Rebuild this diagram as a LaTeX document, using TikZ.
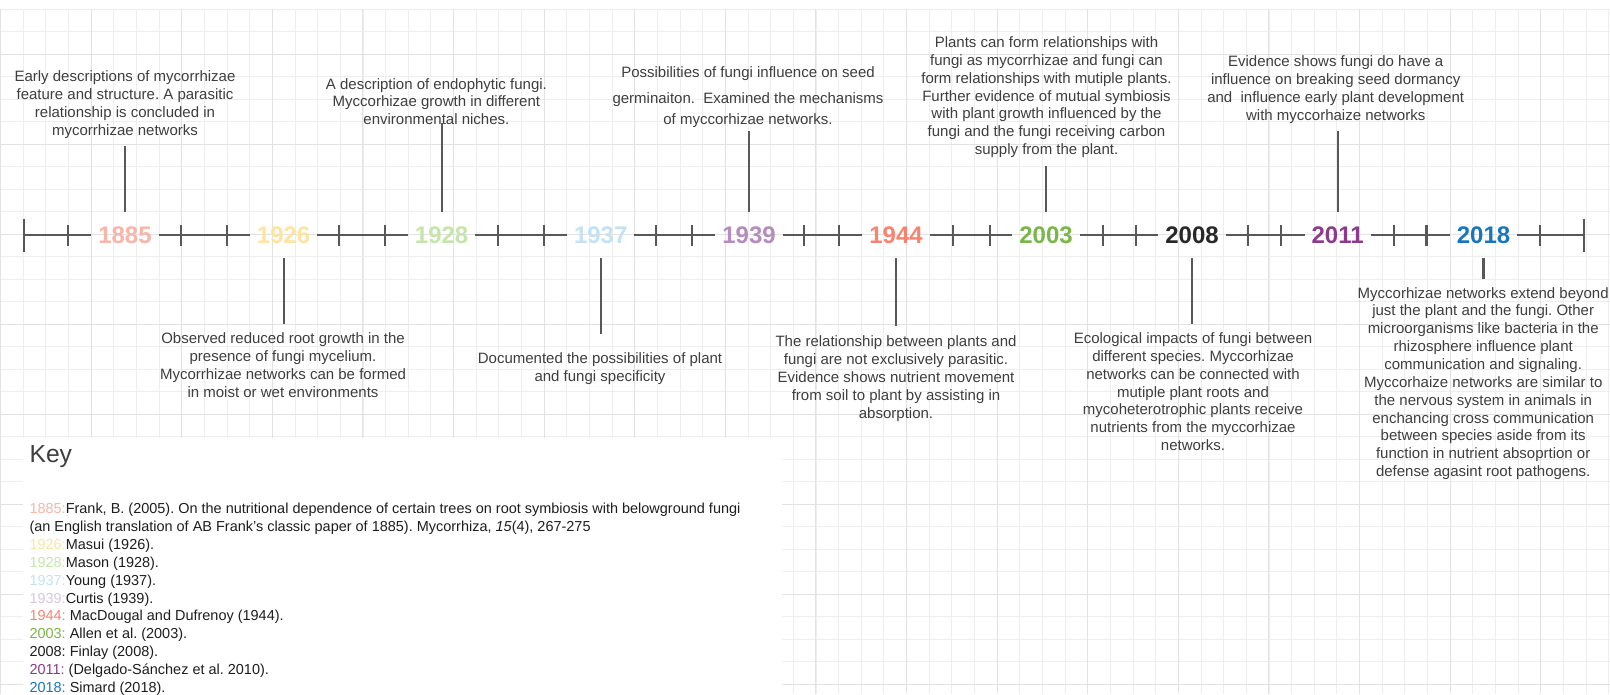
\documentclass[tikz,border=0pt]{standalone}
\usepackage{fontspec}
\setmainfont{Liberation Sans}
\usepackage{xcolor}
\usepackage{tikz}

\definecolor{c1885}{RGB}{250,180,168}
\definecolor{c1926}{RGB}{253,228,160}
\definecolor{c1928}{RGB}{197,230,170}
\definecolor{c1937}{RGB}{195,226,246}
\definecolor{c1939}{RGB}{180,140,190}
\definecolor{k1939}{RGB}{218,198,226}
\definecolor{c1944}{RGB}{249,131,113}
\definecolor{c2003}{RGB}{122,182,72}
\definecolor{c2008}{RGB}{40,40,40}
\definecolor{c2011}{RGB}{140,58,142}
\definecolor{c2018}{RGB}{24,118,190}
\definecolor{linegray}{RGB}{88,88,88}
\definecolor{notegray}{RGB}{62,62,62}
\definecolor{keytext}{RGB}{30,30,30}
\definecolor{gridminor}{RGB}{238,238,238}
\definecolor{gridmajor}{RGB}{226,226,226}

\begin{document}
\frenchspacing
\begin{tikzpicture}[x=0.75pt, y=-0.75pt,
        year/.style     = {font=\bfseries\fontsize{18}{22}\selectfont,
                           inner xsep=5pt, inner ysep=11pt},
        note/.style     = {align=center, anchor=north, inner sep=0pt,
                           text=notegray, font=\fontsize{11.25}{13.4}\selectfont},
        axisline/.style = {draw=linegray, line width=1.6pt},
        stemline/.style = {draw=linegray, line width=1.6pt},
        minorline/.style = {draw=gridminor, line width=0.6pt},
        majorline/.style = {draw=gridmajor, line width=0.7pt}]
    \useasboundingbox (0,0) rectangle (1610,694);
    \fill[white] (0,0) rectangle (1610,694);
    \foreach \gx in {0.5,23.15,...,1609} \draw[minorline] (\gx,9) -- (\gx,694);
    \foreach \gy in {9.3,31.8,...,694} \draw[minorline] (0,\gy) -- (1610,\gy);
    \foreach \gx in {0.5,91.1,...,1609} \draw[majorline] (\gx,9) -- (\gx,694);
    \foreach \gy in {54.3,144.3,...,694} \draw[majorline] (0,\gy) -- (1610,\gy);
    \fill[white] (23,437.5) rectangle (782,694);

    \node[year, text=c1885] (y1885) at (125,235)    {1885};
    \node[year, text=c1926] (y1926) at (283.6,235)  {1926};
    \node[year, text=c1928] (y1928) at (441.6,235)  {1928};
    \node[year, text=c1937] (y1937) at (600.7,235)  {1937};
    \node[year, text=c1939] (y1939) at (749,235)    {1939};
    \node[year, text=c1944] (y1944) at (896,235)    {1944};
    \node[year, text=c2003] (y2003) at (1046,235)   {2003};
    \node[year, text=c2008] (y2008) at (1192,235)   {2008};
    \node[year, text=c2011] (y2011) at (1337.6,235) {2011};
    \node[year, text=c2018] (y2018) at (1483.5,235) {2018};
    \coordinate (capL) at (24,235);
    \coordinate (capR) at (1584.4,235);

    \draw[axisline] (capL) -- (y1885) -- (y1926) -- (y1928) -- (y1937) -- (y1939)
        -- (y1944) -- (y2003) -- (y2008) -- (y2011) -- (y2018) -- (capR);
    \draw[axisline] (24,218.5) -- (24,251.5) (1584.4,218.5) -- (1584.4,251.5);
    \foreach \tx in {67.9,181.4,226.8,339.3,385,498,543.6,656,691.8,804,839,
                     953,990,1103,1135.8,1248,1281,1393.7,1426.5,1539.8}
        \draw[axisline] (\tx,224.5) -- (\tx,245.5);

    \node[note] (n1885) at (125,70.3)    {Early descriptions of mycorrhizae\\feature and structure. A parasitic\\relationship is concluded in\\mycorrhizae networks};
    \node[note] (n1926) at (283,332.3)   {Observed reduced root growth in the\\presence of fungi mycelium.\\Mycorrhizae networks can be formed\\in moist or wet environments};
    \node[note] (n1928) at (436.4,77.9)  {A description of endophytic fungi.\\Myccorhizae growth in different\\environmental niches.};
    \node[note] (n1937) at (600,352.3)   {Documented the possibilities of plant\\and fungi specificity};
    \node[note] (n1939) at (748,66.3)    {Possibilities of fungi influence on seed\\[6pt]germinaiton.\ \ Examined the mechanisms\\[2.5pt]of myccorhizae networks.};
    \node[note] (n1944) at (896,335.6)   {The relationship between plants and\\fungi are not exclusively parasitic.\\Evidence shows nutrient movement\\from soil to plant by assisting in\\absorption.};
    \node[note] (n2003) at (1046.5,36.3) {Plants can form relationships with\\fungi as mycorrhizae and fungi can\\form relationships with mutiple plants.\\Further evidence of mutual symbiosis\\with plant growth influenced by the\\fungi and the fungi receiving carbon\\supply from the plant.};
    \node[note] (n2008) at (1193,332.3)  {Ecological impacts of fungi between\\different species. Myccorhizae\\networks can be connected with\\mutiple plant roots and\\mycoheterotrophic plants receive\\nutrients from the myccorhizae\\networks.};
    \node[note] (n2011) at (1335.7,55.3) {Evidence shows fungi do have a\\influence on breaking seed dormancy\\and\ \ influence early plant development\\with myccorhaize networks};
    \node[note] (n2018) at (1483.2,286.9) {Myccorhizae networks extend beyond\\just the plant and the fungi. Other\\microorganisms like bacteria in the\\rhizosphere influence plant\\communication and signaling.\\Myccorhaize networks are similar to\\the nervous system in animals in\\enchancing cross communication\\between species aside from its\\function in nutrient absoprtion or\\defense agasint root pathogens.};

    \coordinate (s1885) at (125,146);
    \coordinate (s1926) at (283.6,324);
    \coordinate (s1928) at (441.6,123);
    \coordinate (s1937) at (600.7,334);
    \coordinate (s1939) at (749,131);
    \coordinate (s1944) at (896,325.7);
    \coordinate (s2003) at (1046,165.7);
    \coordinate (s2008) at (1192,324);
    \coordinate (s2011) at (1337.6,131);
    \coordinate (s2018) at (1483.5,279.3);
    \foreach \yr in {1885,1926,1928,1937,1939,1944,2003,2008,2011,2018}
        \draw[stemline] (y\yr) -- (s\yr);

    \node[anchor=base west, inner sep=0pt, text=notegray,
          font=\fontsize{18.5}{22}\selectfont] (keyttl) at (29.3,462.7) {Key};
    \node[anchor=north west, inner sep=0pt, align=left, text=keytext,
          font=\fontsize{10.85}{13.4}\selectfont] (keyrefs) at (29.3,503) {%
        \textcolor{c1885}{1885:}Frank, B. (2005). On the nutritional dependence of certain trees on root symbiosis with belowground fungi\\
        (an English translation of AB Frank’s classic paper of 1885). Mycorrhiza, \textit{15}(4), 267-275\\
        \textcolor{c1926}{1926:}Masui (1926).\\
        \textcolor{c1928}{1928:}Mason (1928).\\
        \textcolor{c1937}{1937:}Young (1937).\\
        \textcolor{k1939}{1939:}Curtis (1939).\\
        \textcolor{c1944}{1944:} MacDougal and Dufrenoy (1944).\\
        \textcolor{c2003}{2003:} Allen et al. (2003).\\
        2008: Finlay (2008).\\
        \textcolor{c2011}{2011:} (Delgado-Sánchez et al. 2010).\\
        \textcolor{c2018}{2018:} Simard (2018).};
\end{tikzpicture}
\end{document}
